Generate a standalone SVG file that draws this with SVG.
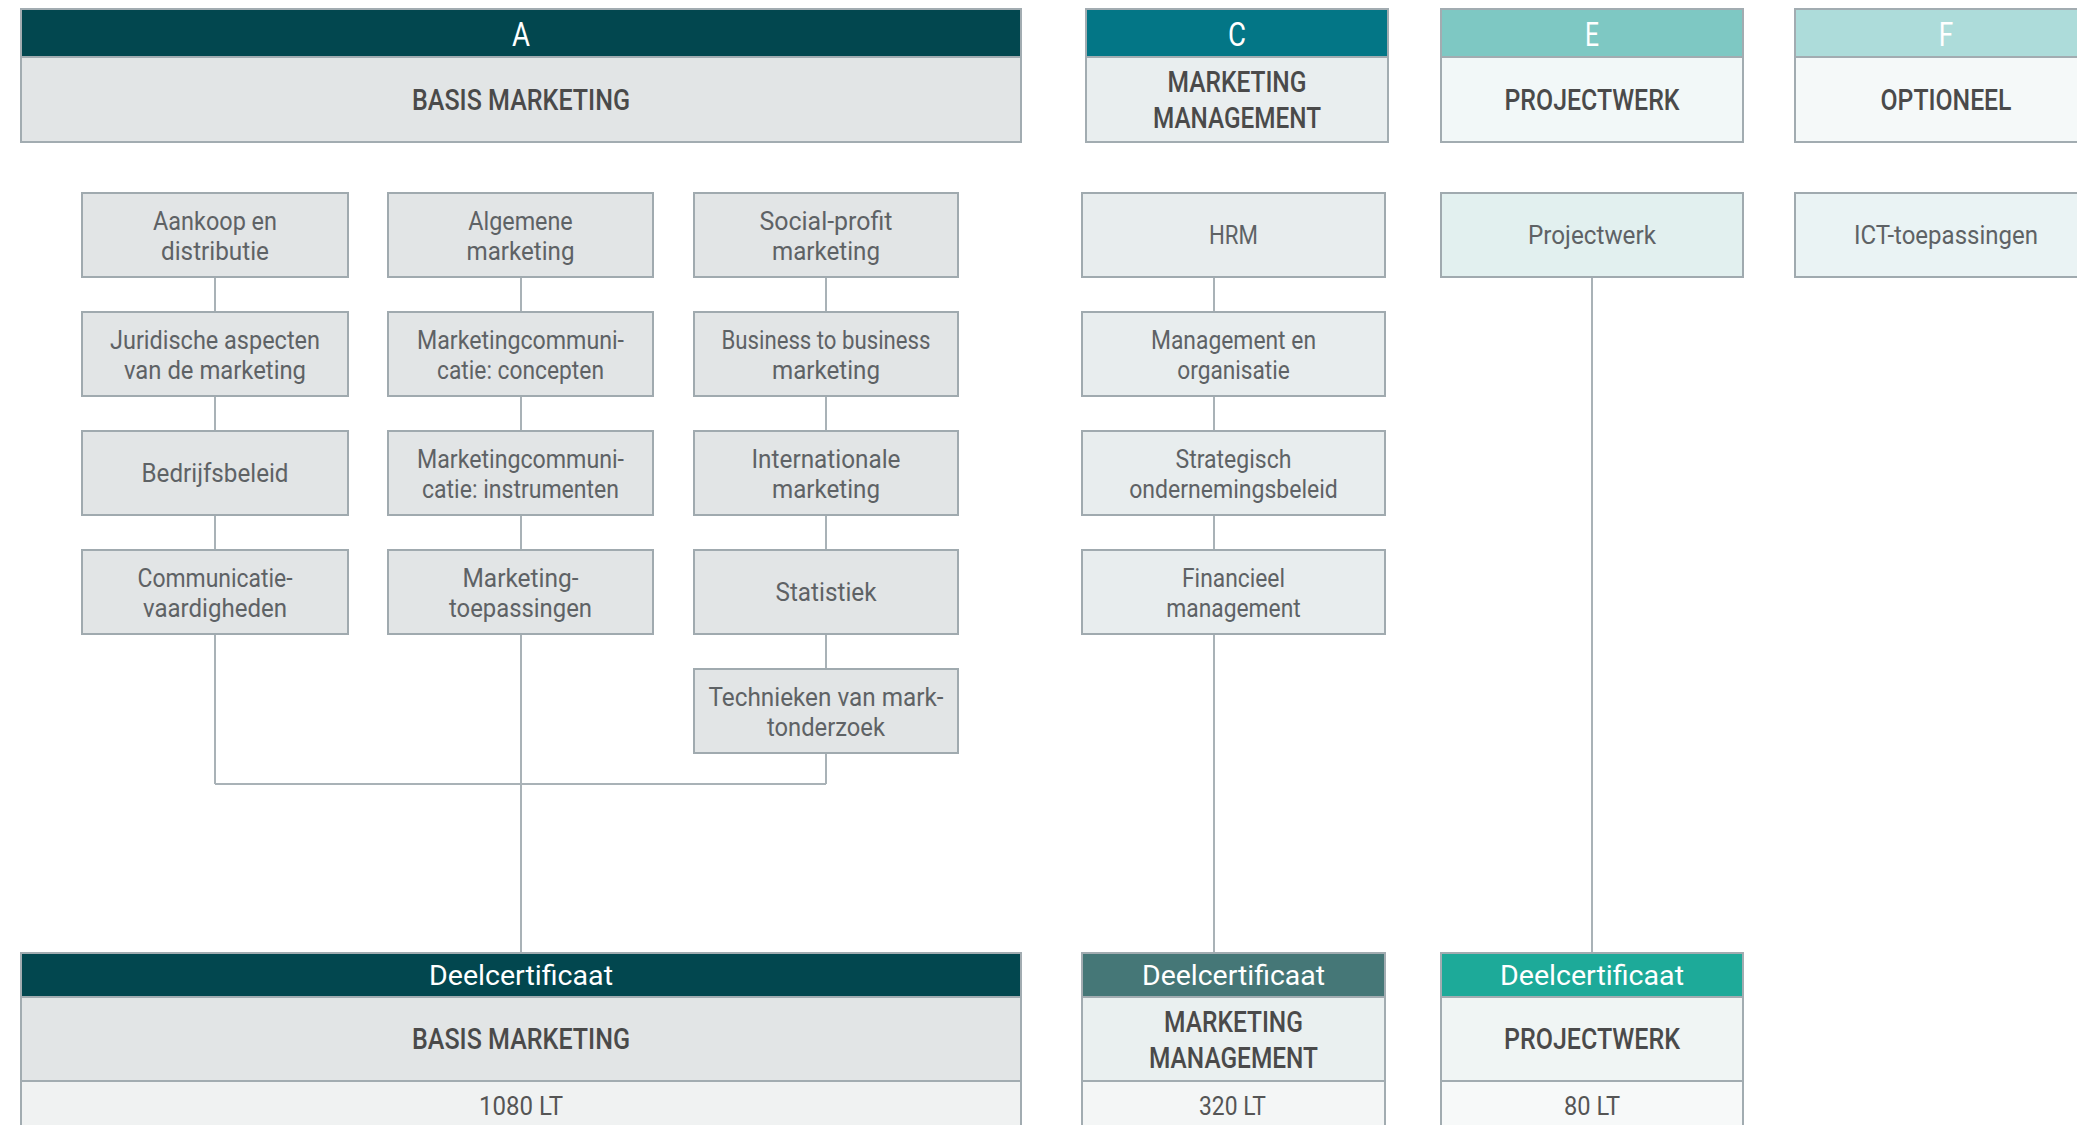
<svg xmlns="http://www.w3.org/2000/svg" width="2077" height="1125" viewBox="0 0 2077 1125">
<style>
text{font-family:Roboto,"Liberation Sans",Arial,sans-serif;text-anchor:middle}
.hl{font-size:34px;fill:#ffffff}
.tt{font-size:29px;fill:#4a4a4a;font-weight:500}
.bx{font-size:25px;fill:#5e6265}
.dc{font-size:28px;fill:#ffffff}
.lt{font-size:25.5px;fill:#555}
.frame{stroke:#a2acb1;stroke-width:2}
.node{fill:#e2e5e6;stroke:#a0aaaf;stroke-width:2}
.nodeC{fill:#e8edee;stroke:#a0aaaf;stroke-width:2}
.conn{stroke:#a9b2b7;stroke-width:2;fill:none}
</style>
<rect width="2077" height="1125" fill="#ffffff"/>

<g id="connectors">
<path class="conn" d="M215,277V312M215,396V431M215,515V550M215,634V784"/>
<path class="conn" d="M521,277V312M521,396V431M521,515V550M521,634V953"/>
<path class="conn" d="M826,277V312M826,396V431M826,515V550M826,634V669M826,753V784"/>
<path class="conn" d="M215,784H826"/>
<path class="conn" d="M1214,277V312M1214,396V431M1214,515V550M1214,634V953"/>
<path class="conn" d="M1592,277V953"/>
</g>

<g id="head-A">
<rect class="frame" x="21" y="9" width="1000" height="48" fill="#02474f"/>
<rect class="frame" x="21" y="57" width="1000" height="85" fill="#e2e5e6"/>
<text class="hl" x="521" y="46" textLength="18" lengthAdjust="spacingAndGlyphs">A</text>
<text class="tt" x="521" y="110" textLength="218" lengthAdjust="spacingAndGlyphs">BASIS MARKETING</text>
</g>
<g id="head-C">
<rect class="frame" x="1086" y="9" width="302" height="48" fill="#037686"/>
<rect class="frame" x="1086" y="57" width="302" height="85" fill="#e9eeef"/>
<text class="hl" x="1237" y="46" textLength="18" lengthAdjust="spacingAndGlyphs">C</text>
<text class="tt" x="1237" y="92" textLength="139" lengthAdjust="spacingAndGlyphs">MARKETING</text>
<text class="tt" x="1237" y="128" textLength="168" lengthAdjust="spacingAndGlyphs">MANAGEMENT</text>
</g>
<g id="head-E">
<rect class="frame" x="1441" y="9" width="302" height="48" fill="#7ec8c3"/>
<rect class="frame" x="1441" y="57" width="302" height="85" fill="#f2f8f8"/>
<text class="hl" x="1592" y="46" textLength="14" lengthAdjust="spacingAndGlyphs">E</text>
<text class="tt" x="1592" y="110" textLength="175" lengthAdjust="spacingAndGlyphs">PROJECTWERK</text>
</g>
<g id="head-F">
<rect class="frame" x="1795" y="9" width="302" height="48" fill="#addcda"/>
<rect class="frame" x="1795" y="57" width="302" height="85" fill="#f5f9f9"/>
<text class="hl" x="1946" y="46" textLength="14.5" lengthAdjust="spacingAndGlyphs">F</text>
<text class="tt" x="1946" y="110" textLength="131" lengthAdjust="spacingAndGlyphs">OPTIONEEL</text>
</g>

<g id="n-aankoop"><rect class="node" x="82" y="193" width="266" height="84"/>
<text class="bx" x="215" y="229.5" textLength="124" lengthAdjust="spacingAndGlyphs">Aankoop en</text>
<text class="bx" x="215" y="260" textLength="108" lengthAdjust="spacingAndGlyphs">distributie</text></g>
<g id="n-juridisch"><rect class="node" x="82" y="312" width="266" height="84"/>
<text class="bx" x="215" y="348.5" textLength="210" lengthAdjust="spacingAndGlyphs">Juridische aspecten</text>
<text class="bx" x="215" y="379" textLength="182" lengthAdjust="spacingAndGlyphs">van de marketing</text></g>
<g id="n-bedrijfsbeleid"><rect class="node" x="82" y="431" width="266" height="84"/>
<text class="bx" x="215" y="482" textLength="147" lengthAdjust="spacingAndGlyphs">Bedrijfsbeleid</text></g>
<g id="n-communicatie"><rect class="node" x="82" y="550" width="266" height="84"/>
<text class="bx" x="215" y="586.5" textLength="155" lengthAdjust="spacingAndGlyphs">Communicatie-</text>
<text class="bx" x="215" y="617" textLength="144" lengthAdjust="spacingAndGlyphs">vaardigheden</text></g>

<g id="n-algemene"><rect class="node" x="388" y="193" width="265" height="84"/>
<text class="bx" x="520.5" y="229.5" textLength="104.5" lengthAdjust="spacingAndGlyphs">Algemene</text>
<text class="bx" x="520.5" y="260" textLength="108" lengthAdjust="spacingAndGlyphs">marketing</text></g>
<g id="n-mcconcepten"><rect class="node" x="388" y="312" width="265" height="84"/>
<text class="bx" x="520.5" y="348.5" textLength="207" lengthAdjust="spacingAndGlyphs">Marketingcommuni-</text>
<text class="bx" x="520.5" y="379" textLength="167" lengthAdjust="spacingAndGlyphs">catie: concepten</text></g>
<g id="n-mcinstrumenten"><rect class="node" x="388" y="431" width="265" height="84"/>
<text class="bx" x="520.5" y="467.5" textLength="207" lengthAdjust="spacingAndGlyphs">Marketingcommuni-</text>
<text class="bx" x="520.5" y="498" textLength="197" lengthAdjust="spacingAndGlyphs">catie: instrumenten</text></g>
<g id="n-mtoepassingen"><rect class="node" x="388" y="550" width="265" height="84"/>
<text class="bx" x="520.5" y="586.5" textLength="116" lengthAdjust="spacingAndGlyphs">Marketing-</text>
<text class="bx" x="520.5" y="617" textLength="143" lengthAdjust="spacingAndGlyphs">toepassingen</text></g>

<g id="n-socialprofit"><rect class="node" x="694" y="193" width="264" height="84"/>
<text class="bx" x="826" y="229.5" textLength="133" lengthAdjust="spacingAndGlyphs">Social-profit</text>
<text class="bx" x="826" y="260" textLength="108" lengthAdjust="spacingAndGlyphs">marketing</text></g>
<g id="n-b2b"><rect class="node" x="694" y="312" width="264" height="84"/>
<text class="bx" x="826" y="348.5" textLength="209" lengthAdjust="spacingAndGlyphs">Business to business</text>
<text class="bx" x="826" y="379" textLength="108" lengthAdjust="spacingAndGlyphs">marketing</text></g>
<g id="n-internationaal"><rect class="node" x="694" y="431" width="264" height="84"/>
<text class="bx" x="826" y="467.5" textLength="149" lengthAdjust="spacingAndGlyphs">Internationale</text>
<text class="bx" x="826" y="498" textLength="108" lengthAdjust="spacingAndGlyphs">marketing</text></g>
<g id="n-statistiek"><rect class="node" x="694" y="550" width="264" height="84"/>
<text class="bx" x="826" y="601" textLength="101" lengthAdjust="spacingAndGlyphs">Statistiek</text></g>
<g id="n-technieken"><rect class="node" x="694" y="669" width="264" height="84"/>
<text class="bx" x="826" y="705.5" textLength="235" lengthAdjust="spacingAndGlyphs">Technieken van mark-</text>
<text class="bx" x="826" y="736" textLength="118" lengthAdjust="spacingAndGlyphs">tonderzoek</text></g>

<g id="n-hrm"><rect class="nodeC" x="1082" y="193" width="303" height="84"/>
<text class="bx" x="1233.5" y="244" textLength="49" lengthAdjust="spacingAndGlyphs">HRM</text></g>
<g id="n-management"><rect class="nodeC" x="1082" y="312" width="303" height="84"/>
<text class="bx" x="1233.5" y="348.5" textLength="165" lengthAdjust="spacingAndGlyphs">Management en</text>
<text class="bx" x="1233.5" y="379" textLength="112.5" lengthAdjust="spacingAndGlyphs">organisatie</text></g>
<g id="n-strategisch"><rect class="nodeC" x="1082" y="431" width="303" height="84"/>
<text class="bx" x="1233.5" y="467.5" textLength="116" lengthAdjust="spacingAndGlyphs">Strategisch</text>
<text class="bx" x="1233.5" y="498" textLength="208.5" lengthAdjust="spacingAndGlyphs">ondernemingsbeleid</text></g>
<g id="n-financieel"><rect class="nodeC" x="1082" y="550" width="303" height="84"/>
<text class="bx" x="1233.5" y="586.5" textLength="103" lengthAdjust="spacingAndGlyphs">Financieel</text>
<text class="bx" x="1233.5" y="617" textLength="134.4" lengthAdjust="spacingAndGlyphs">management</text></g>

<g id="n-projectwerk"><rect x="1441" y="193" width="302" height="84" fill="#e2f0ef" stroke="#a0aaaf" stroke-width="2"/>
<text class="bx" x="1592" y="244" textLength="128" lengthAdjust="spacingAndGlyphs">Projectwerk</text></g>
<g id="n-ict"><rect x="1795" y="193" width="302" height="84" fill="#eaf3f4" stroke="#a0aaaf" stroke-width="2"/>
<text class="bx" x="1946" y="244" textLength="184" lengthAdjust="spacingAndGlyphs">ICT-toepassingen</text></g>

<g id="cert-A">
<rect class="frame" x="21" y="953" width="1000" height="44" fill="#02474f"/>
<rect class="frame" x="21" y="997" width="1000" height="84" fill="#e2e5e6"/>
<rect class="frame" x="21" y="1081" width="1000" height="60" fill="#f0f2f2"/>
<text class="dc" x="521" y="985" textLength="184" lengthAdjust="spacingAndGlyphs">Deelcertificaat</text>
<text class="tt" x="521" y="1049" textLength="218" lengthAdjust="spacingAndGlyphs">BASIS MARKETING</text>
<text class="lt" x="521" y="1115" textLength="84" lengthAdjust="spacingAndGlyphs">1080 LT</text>
</g>
<g id="cert-C">
<rect class="frame" x="1082" y="953" width="303" height="44" fill="#457777"/>
<rect class="frame" x="1082" y="997" width="303" height="84" fill="#eaf0f0"/>
<rect class="frame" x="1082" y="1081" width="303" height="60" fill="#f4f6f6"/>
<text class="dc" x="1233.5" y="985" textLength="183" lengthAdjust="spacingAndGlyphs">Deelcertificaat</text>
<text class="tt" x="1233.5" y="1032" textLength="139" lengthAdjust="spacingAndGlyphs">MARKETING</text>
<text class="tt" x="1233.5" y="1067.5" textLength="169" lengthAdjust="spacingAndGlyphs">MANAGEMENT</text>
<text class="lt" x="1232.5" y="1115" textLength="67" lengthAdjust="spacingAndGlyphs">320 LT</text>
</g>
<g id="cert-E">
<rect class="frame" x="1441" y="953" width="302" height="44" fill="#1daa99"/>
<rect class="frame" x="1441" y="997" width="302" height="84" fill="#f0f5f4"/>
<rect class="frame" x="1441" y="1081" width="302" height="60" fill="#f7f9f9"/>
<text class="dc" x="1592" y="985" textLength="184" lengthAdjust="spacingAndGlyphs">Deelcertificaat</text>
<text class="tt" x="1592" y="1049" textLength="176" lengthAdjust="spacingAndGlyphs">PROJECTWERK</text>
<text class="lt" x="1592" y="1115" textLength="56" lengthAdjust="spacingAndGlyphs">80 LT</text>
</g>
</svg>
